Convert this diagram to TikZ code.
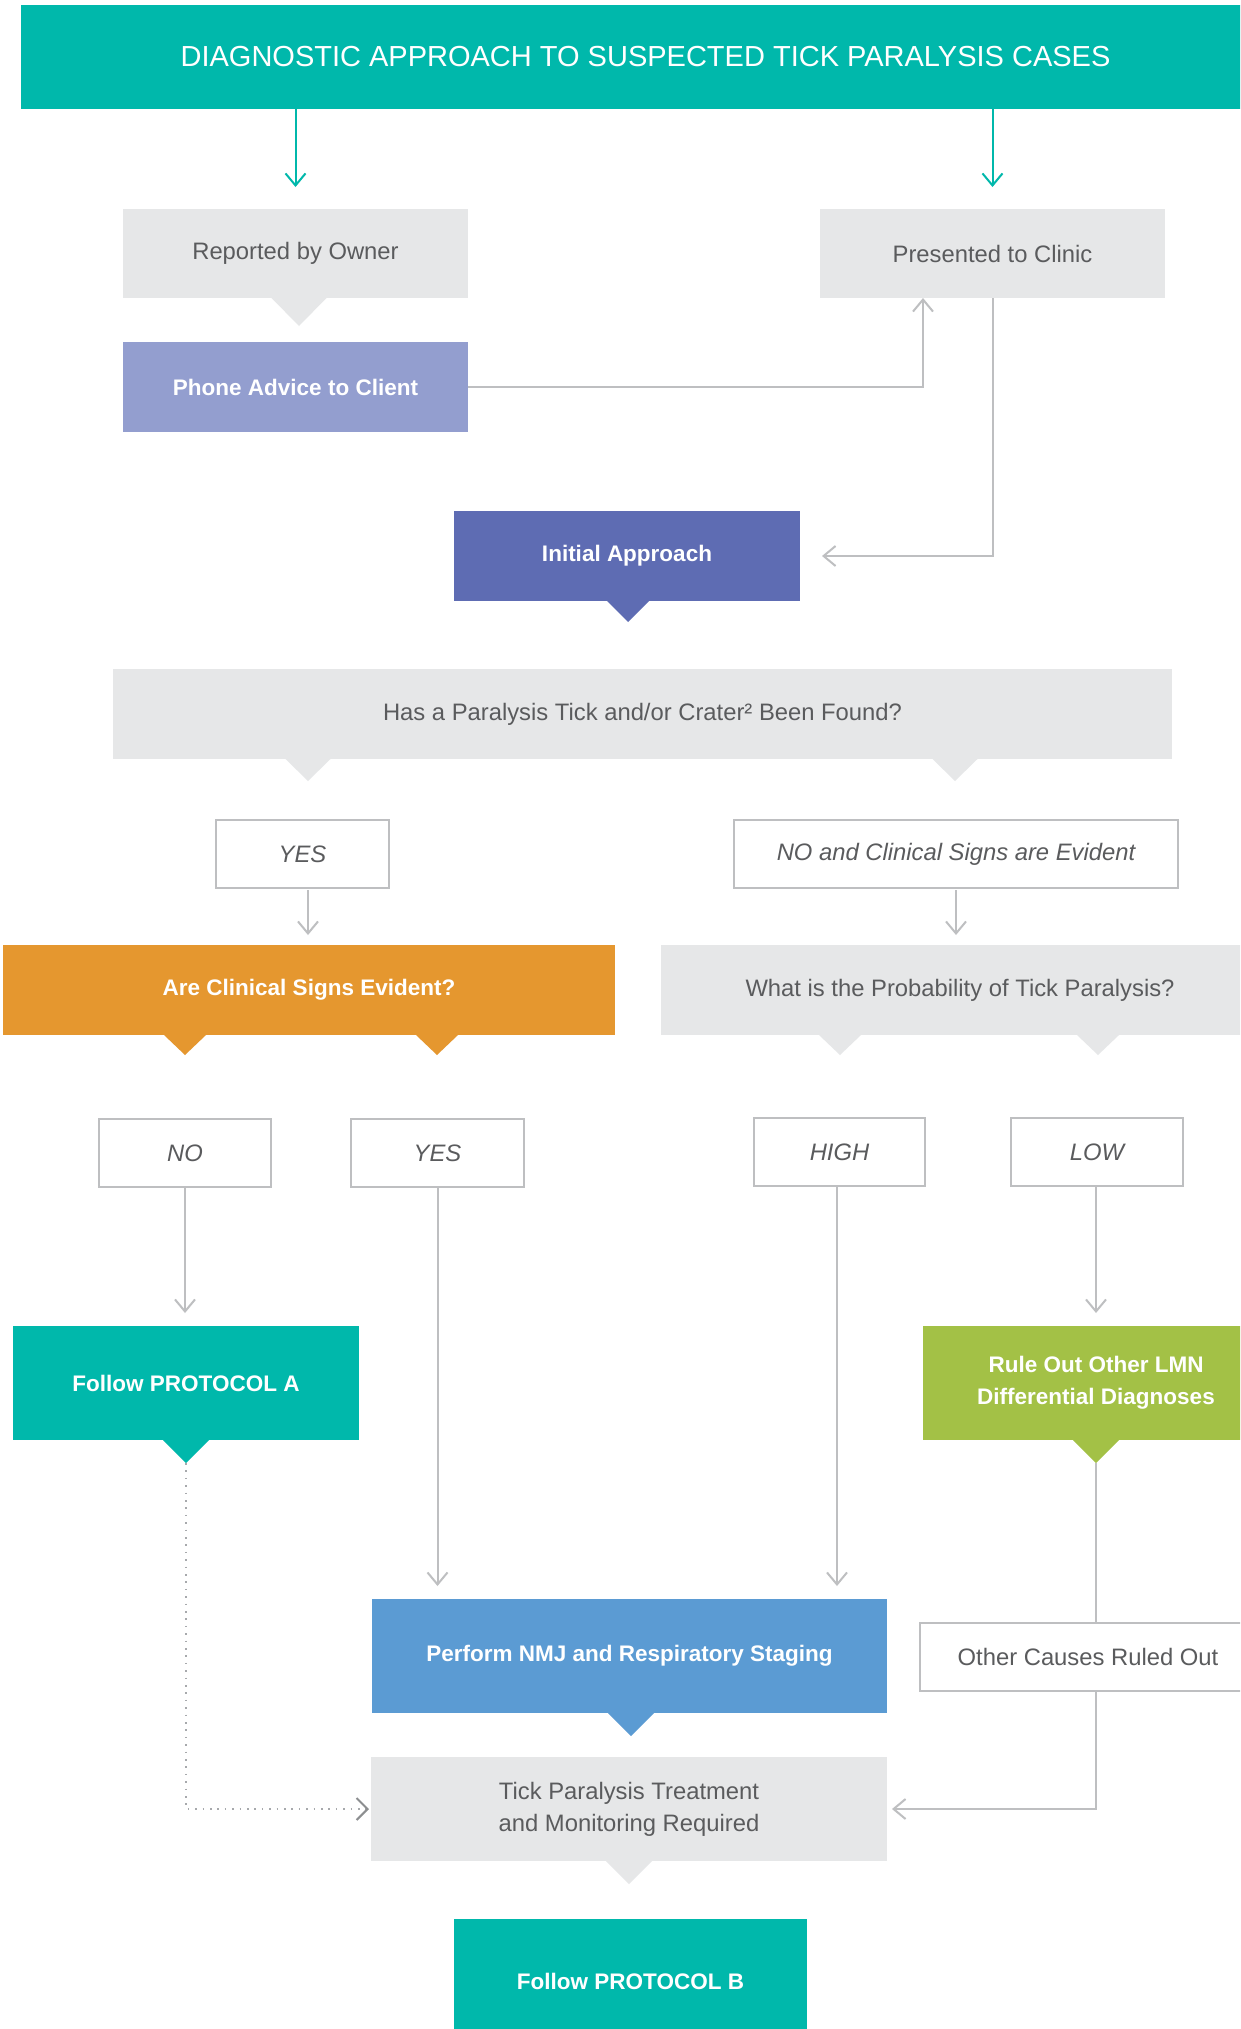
\documentclass[tikz,border=0pt]{standalone}
\usepackage{fontspec}
\setmainfont{Liberation Sans}
\usetikzlibrary{arrows.meta,calc}
\definecolor{tealc}{HTML}{00B8AB}
\definecolor{lgray}{HTML}{E6E7E8}
\definecolor{lavc}{HTML}{939ECF}
\definecolor{indigoc}{HTML}{5E6CB3}
\definecolor{orangec}{HTML}{E5972F}
\definecolor{greenc}{HTML}{A3C146}
\definecolor{bluec}{HTML}{5B9BD3}
\definecolor{connc}{HTML}{BEBFC1}
\definecolor{txtgray}{HTML}{5A5B5D}
\definecolor{dotgray}{HTML}{A7A9AC}
\definecolor{dotarrow}{HTML}{8C8E90}
\newcommand\tickptr[5]{\fill[#1] (#2-#4,#3) -- (#2+#4,#3) -- (#2,#3+#5) -- cycle;}
\begin{document}
\begin{tikzpicture}[x=1pt,y=-1pt,
  box/.style={inner sep=0pt, outer sep=0pt, anchor=north west, align=center},
  graybox/.style={box, fill=lgray, text=txtgray, font=\fontsize{23.8}{32}\selectfont},
  colbox/.style={box, text=white, font=\bfseries\fontsize{22.5}{32}\selectfont},
  outbox/.style={box, draw=connc, line width=2pt, fill=white, text=txtgray, font=\itshape\fontsize{23.8}{28}\selectfont},
  tealarr/.style={draw=tealc, line width=2pt, -{Straight Barb[length=12pt,width=20pt,line width=2pt]}},
  connarr/.style={draw=connc, line width=2pt, -{Straight Barb[length=12pt,width=20pt,line width=2pt]}},
  connline/.style={draw=connc, line width=2pt},
  dotline/.style={draw=dotgray, line width=2pt, dash pattern=on 1.6pt off 5.8pt,
     -{Straight Barb[length=11pt,width=22pt,line width=2pt,color=dotarrow]}}
]
\useasboundingbox (0,0) rectangle (1240,2029);
\clip (0,0) rectangle (1240,2029);
\fill[white] (0,0) rectangle (1240,2029);

% nodes
\node[box, fill=tealc, text=white, minimum width=1249pt, minimum height=104pt,
      font=\fontsize{29}{34}\selectfont] (title) at (21,5)
      {DIAGNOSTIC APPROACH TO SUSPECTED TICK PARALYSIS CASES};
\node[graybox, minimum width=345pt, minimum height=89pt] (rep) at (123,209) {Reported by Owner};
\node[graybox, minimum width=345pt, minimum height=89pt] (pres) at (820,209) {Presented to Clinic};
\node[colbox, fill=lavc, minimum width=345pt, minimum height=90pt] (phone) at (123,342) {Phone Advice to Client};
\node[colbox, fill=indigoc, minimum width=346pt, minimum height=90pt] (init) at (454,511) {Initial Approach};
\node[graybox, minimum width=1059pt, minimum height=90pt] (q1) at (113,669) {Has a Paralysis Tick and/or Crater² Been Found?};
\node[outbox, minimum width=173pt, minimum height=68pt] (yes1) at (216,820) {YES};
\node[outbox, minimum width=444pt, minimum height=68pt] (noev) at (734,820) {NO and Clinical Signs are Evident};
\node[colbox, fill=orangec, minimum width=612pt, minimum height=90pt] (q2) at (3,945) {Are Clinical Signs Evident?};
\node[graybox, minimum width=598pt, minimum height=90pt] (q3) at (661,945) {What is the Probability of Tick Paralysis?};
\node[outbox, minimum width=172pt, minimum height=68pt] (no2) at (99,1119) {NO};
\node[outbox, minimum width=173pt, minimum height=68pt] (yes2) at (351,1119) {YES};
\node[outbox, minimum width=171pt, minimum height=68pt] (high) at (754,1118) {HIGH};
\node[outbox, minimum width=172pt, minimum height=68pt] (low) at (1011,1118) {LOW};
\node[colbox, fill=tealc, minimum width=346pt, minimum height=114pt] (pa) at (13,1326) {Follow PROTOCOL A};
\node[colbox, fill=greenc, minimum width=346pt, minimum height=114pt] (ro) at (923,1326) {Rule Out Other LMN\\Differential Diagnoses};
\node[colbox, fill=bluec, minimum width=515pt, minimum height=114pt] (nmj) at (372,1599) {Perform NMJ and Respiratory Staging};
\node[outbox, font=\fontsize{23.8}{28}\selectfont, minimum width=336pt, minimum height=68pt] (oc) at (920,1623) {Other Causes Ruled Out};
\node[graybox, minimum width=516pt, minimum height=104pt] (tick) at (371,1757) {Tick Paralysis Treatment\\and Monitoring Required};
\node[colbox, fill=tealc, minimum width=353pt, minimum height=124pt] (pb) at (454,1919) {Follow PROTOCOL B};

% pointers
\tickptr{lgray}{299}{298}{27.5}{28}
\tickptr{indigoc}{628}{601}{21}{21}
\tickptr{lgray}{308}{759}{22.5}{22}
\tickptr{lgray}{955}{759}{22.5}{22}
\tickptr{orangec}{185}{1035}{21}{20}
\tickptr{orangec}{437}{1035}{21}{20}
\tickptr{lgray}{840}{1035}{21}{20}
\tickptr{lgray}{1098}{1035}{21}{20}
\tickptr{tealc}{186}{1440}{23}{23}
\tickptr{greenc}{1096}{1440}{23}{23}
\tickptr{bluec}{631}{1713}{23}{23}
\tickptr{lgray}{629}{1861}{23}{23}

\coordinate (q1L) at (308,781);
\coordinate (hx) at (837,1186);
\coordinate (paT) at (186,1463);
\coordinate (roT) at (1096,1463);

% connectors
\draw[tealarr, shorten >=22pt] (title.south -| rep.north) -- (rep.north);
\draw[tealarr, shorten >=22pt] (title.south -| pres.north) -- (pres.north);
\draw[connarr] (phone.east) -| ([xshift=103pt]pres.south west);
\draw[connarr, shorten >=22pt] (pres.south) |- (init.east);
\draw[connarr, shorten <=2pt, shorten >=10pt] (yes1.south -| q1L) -- (q2.north -| q1L);
\draw[connarr, shorten <=2pt, shorten >=10pt] (noev.south) -- (q3.north -| noev.south);
\draw[connarr, shorten >=13pt] (no2.south) -- (pa.north -| no2.south);
\draw[connarr, shorten >=13pt] (yes2.south) -- (nmj.north -| yes2.south);
\draw[connarr, shorten >=13pt] (high.south -| hx) -- (nmj.north -| hx);
\draw[connarr, shorten >=13pt] (low.south -| roT) -- (ro.north -| roT);
\draw[connline] (roT) -- (oc.north -| roT);
\draw[connarr, shorten >=5pt] (oc.south -| roT) |- (tick.east);
\draw[dotline, shorten >=2pt] (paT) |- (tick.west);
\end{tikzpicture}
\end{document}
